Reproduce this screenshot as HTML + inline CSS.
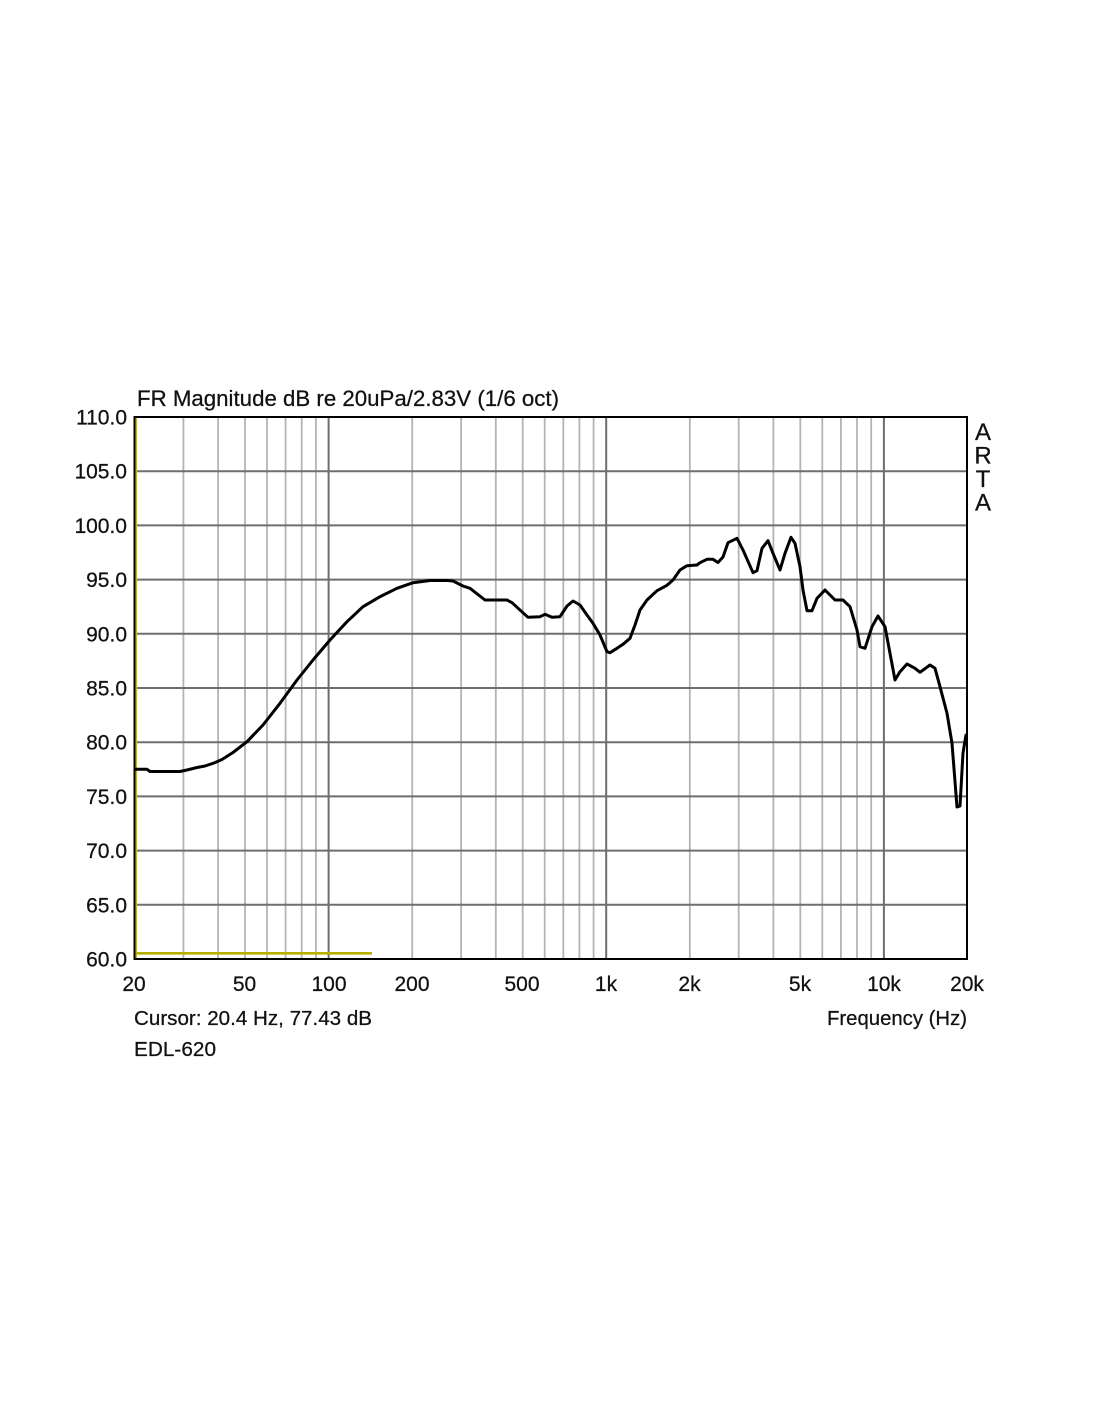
<!DOCTYPE html>
<html>
<head>
<meta charset="utf-8">
<style>
  html,body{margin:0;padding:0;background:#fff;}
  svg{display:block;}
  text{font-family:"Liberation Sans",Arial,sans-serif;fill:#111;stroke:#111;stroke-width:0.25;}
</style>
</head>
<body>
<svg width="1100" height="1422" viewBox="0 0 1100 1422" xmlns="http://www.w3.org/2000/svg">
  <rect width="1100" height="1422" fill="#fff"/>

  <!-- minor vertical grid -->
  <g stroke="#b4b4b4" stroke-width="1.8">
    <line x1="183.4" y1="417" x2="183.4" y2="959"/>
    <line x1="218.1" y1="417" x2="218.1" y2="959"/>
    <line x1="245.0" y1="417" x2="245.0" y2="959"/>
    <line x1="267.0" y1="417" x2="267.0" y2="959"/>
    <line x1="285.6" y1="417" x2="285.6" y2="959"/>
    <line x1="301.7" y1="417" x2="301.7" y2="959"/>
    <line x1="315.9" y1="417" x2="315.9" y2="959"/>
    <line x1="412.2" y1="417" x2="412.2" y2="959"/>
    <line x1="461.1" y1="417" x2="461.1" y2="959"/>
    <line x1="495.8" y1="417" x2="495.8" y2="959"/>
    <line x1="522.7" y1="417" x2="522.7" y2="959"/>
    <line x1="544.7" y1="417" x2="544.7" y2="959"/>
    <line x1="563.3" y1="417" x2="563.3" y2="959"/>
    <line x1="579.4" y1="417" x2="579.4" y2="959"/>
    <line x1="593.6" y1="417" x2="593.6" y2="959"/>
    <line x1="689.8" y1="417" x2="689.8" y2="959"/>
    <line x1="738.7" y1="417" x2="738.7" y2="959"/>
    <line x1="773.4" y1="417" x2="773.4" y2="959"/>
    <line x1="800.3" y1="417" x2="800.3" y2="959"/>
    <line x1="822.3" y1="417" x2="822.3" y2="959"/>
    <line x1="840.9" y1="417" x2="840.9" y2="959"/>
    <line x1="857.0" y1="417" x2="857.0" y2="959"/>
    <line x1="871.2" y1="417" x2="871.2" y2="959"/>
  </g>
  <!-- major grid -->
  <g stroke="#6e6e6e" stroke-width="2">
    <line x1="328.6" y1="417" x2="328.6" y2="959"/>
    <line x1="606.2" y1="417" x2="606.2" y2="959"/>
    <line x1="883.9" y1="417" x2="883.9" y2="959"/>
    <line x1="134" y1="471.2" x2="967" y2="471.2"/>
    <line x1="134" y1="525.4" x2="967" y2="525.4"/>
    <line x1="134" y1="579.6" x2="967" y2="579.6"/>
    <line x1="134" y1="633.8" x2="967" y2="633.8"/>
    <line x1="134" y1="688.0" x2="967" y2="688.0"/>
    <line x1="134" y1="742.2" x2="967" y2="742.2"/>
    <line x1="134" y1="796.4" x2="967" y2="796.4"/>
    <line x1="134" y1="850.6" x2="967" y2="850.6"/>
    <line x1="134" y1="904.8" x2="967" y2="904.8"/>
  </g>

  <!-- yellow cursor lines -->
  <line x1="136.3" y1="418" x2="136.3" y2="958" stroke="#c8b800" stroke-width="1.6"/>
  <line x1="136" y1="953.3" x2="372" y2="953.3" stroke="#b8b000" stroke-width="2.6"/>

  <!-- frame -->
  <rect x="134.5" y="417" width="832.5" height="542" fill="none" stroke="#000" stroke-width="2"/>

  <!-- curve -->
  <polyline fill="none" stroke="#000" stroke-width="3" stroke-linejoin="round" stroke-linecap="round"
    points="135,769.3 147,769.3 150,771.5 180,771.5 187,770 197,767.5 205,766 214,763 222,759.5 233,752.5 247,741.7 263,725 280,703.3 297,680 313,660 330,640 347,621.7 363,606.7 380,596.7 397,588.3 413,582.7 430,580.5 447,580.5 453,581 463,586 470,588.3 485,600 507,600 512,602.7 528,617.3 540,616.7 545,614.3 552,617.3 560,616.7 567,606 573,601 580,605 587,615 593,623.3 600,635 607,651.7 610,652.7 617,648.3 623,644.3 630,638.3 635,625 640,610 647,600 657,590.7 667,585.3 673,580 680,570 687,565.7 697,565 700,562.7 707,559.3 713,559.3 718,562.5 723,557 728,542.7 737,538.3 743,550 753,572.7 757,570.7 762,548.3 768,540.7 773,553.3 780,570 785,553.3 791,537.3 795,543.3 800,566.7 803,590 807,610.7 812,610.7 817,598.3 825,590 835,600 843,600 850,606.7 857,630 860,646.7 865,648.3 872,626.7 878,616 885,626.7 890,653.3 895,680 900,671.7 907,664 915,668.3 920,672.3 930,665 935,668.3 940,686.7 947,713.3 952,743.3 957,807 960,806 963,753 966,735"/>

  <!-- title -->
  <text x="137" y="406" font-size="22" textLength="422" lengthAdjust="spacingAndGlyphs">FR Magnitude dB re 20uPa/2.83V (1/6 oct)</text>

  <!-- y labels -->
  <g font-size="21" text-anchor="end">
    <text x="127" y="424.5">110.0</text>
    <text x="127" y="478.7">105.0</text>
    <text x="127" y="532.9">100.0</text>
    <text x="127" y="587.1">95.0</text>
    <text x="127" y="641.3">90.0</text>
    <text x="127" y="695.5">85.0</text>
    <text x="127" y="749.7">80.0</text>
    <text x="127" y="803.9">75.0</text>
    <text x="127" y="858.1">70.0</text>
    <text x="127" y="912.3">65.0</text>
    <text x="127" y="966.5">60.0</text>
  </g>

  <!-- x labels -->
  <g font-size="21" text-anchor="middle">
    <text x="134" y="991">20</text>
    <text x="244.5" y="991">50</text>
    <text x="329" y="991">100</text>
    <text x="412" y="991">200</text>
    <text x="522" y="991">500</text>
    <text x="606" y="991">1k</text>
    <text x="689.5" y="991">2k</text>
    <text x="800" y="991">5k</text>
    <text x="884" y="991">10k</text>
    <text x="967" y="991">20k</text>
  </g>

  <text x="134" y="1025" font-size="20" textLength="238" lengthAdjust="spacingAndGlyphs">Cursor: 20.4 Hz, 77.43 dB</text>
  <text x="134" y="1056" font-size="20" textLength="82" lengthAdjust="spacingAndGlyphs">EDL-620</text>
  <text x="827" y="1025" font-size="20" textLength="140" lengthAdjust="spacingAndGlyphs">Frequency (Hz)</text>

  <!-- ARTA -->
  <g font-size="24" text-anchor="middle">
    <text x="983" y="440">A</text>
    <text x="983" y="463.5">R</text>
    <text x="983" y="487">T</text>
    <text x="983" y="510.5">A</text>
  </g>
</svg>
</body>
</html>
